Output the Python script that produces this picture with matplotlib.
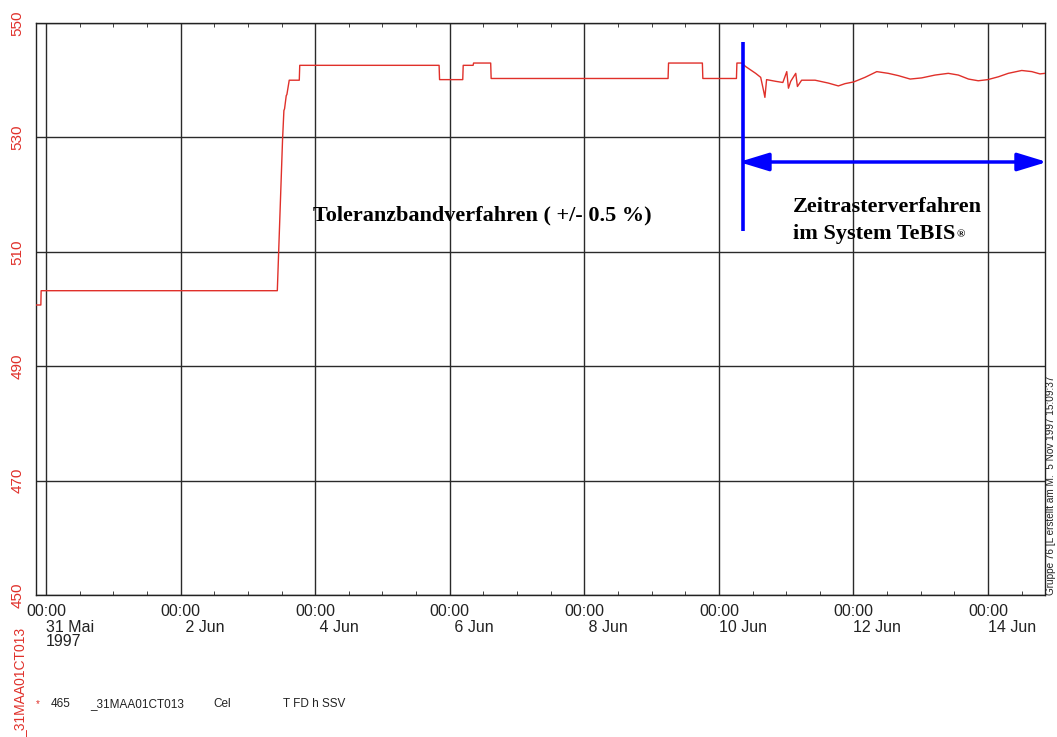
import matplotlib
matplotlib.use('Agg')
import matplotlib.pyplot as plt
import matplotlib.dates as mdates
import pandas as pd

plt.rcParams['font.family'] = ['Liberation Sans', 'DejaVu Sans']

# temperature trace 31MAA01CT013
times = [
    '1997-05-30 20:26', '1997-05-30 22:10', '1997-05-30 22:16',
    '1997-06-03 10:30', '1997-06-03 12:22', '1997-06-03 12:51',
    '1997-06-03 13:05', '1997-06-03 13:41', '1997-06-03 13:55',
    '1997-06-03 14:45', '1997-06-03 18:20', '1997-06-03 18:30',
    '1997-06-05 20:12', '1997-06-05 20:22', '1997-06-06 04:38',
    '1997-06-06 04:48', '1997-06-06 08:20', '1997-06-06 08:30',
    '1997-06-06 14:36', '1997-06-06 14:46', '1997-06-09 05:52',
    '1997-06-09 06:02', '1997-06-09 18:06', '1997-06-09 18:16',
    '1997-06-10 06:15', '1997-06-10 06:25', '1997-06-10 08:07',
    '1997-06-10 09:30', '1997-06-10 11:18', '1997-06-10 13:06',
    '1997-06-10 14:54', '1997-06-10 16:00', '1997-06-10 16:24',
    '1997-06-10 17:00', '1997-06-10 20:18', '1997-06-10 22:48',
    '1997-06-11 00:12', '1997-06-11 00:48', '1997-06-11 01:36',
    '1997-06-11 03:24', '1997-06-11 04:00', '1997-06-11 05:30',
    '1997-06-11 10:18', '1997-06-11 15:00', '1997-06-11 18:36',
    '1997-06-11 21:00', '1997-06-12 00:06', '1997-06-12 04:06',
    '1997-06-12 08:18', '1997-06-12 12:24', '1997-06-12 16:00',
    '1997-06-12 20:12', '1997-06-13 00:18', '1997-06-13 05:06',
    '1997-06-13 09:48', '1997-06-13 13:24', '1997-06-13 17:00',
    '1997-06-13 20:30', '1997-06-13 23:54', '1997-06-14 03:42',
    '1997-06-14 07:12', '1997-06-14 12:00', '1997-06-14 15:36',
    '1997-06-14 18:30', '1997-06-14 20:18',
]
values = [
    500.7, 500.7, 503.2,
    503.2, 529.6, 534.7,
    535.0, 537.3, 537.5,
    540.0, 540.0, 542.6,
    542.6, 540.1, 540.1,
    542.6, 542.6, 543.0,
    543.0, 540.3, 540.3,
    543.0, 543.0, 540.3,
    540.3, 543.0, 543.0,
    542.4, 541.8, 541.2,
    540.5, 538.0, 537.0,
    540.1, 539.8, 539.6,
    541.5, 538.6, 539.8,
    541.2, 538.9, 540.0,
    540.0, 539.5, 539.0,
    539.4, 539.7, 540.5,
    541.5, 541.2, 540.8,
    540.2, 540.4, 540.9,
    541.2, 540.9, 540.2,
    539.9, 540.1, 540.6,
    541.2, 541.7, 541.5,
    541.1, 541.2,
]

tick_days = ['1997-05-31', '1997-06-02', '1997-06-04', '1997-06-06',
             '1997-06-08', '1997-06-10', '1997-06-12', '1997-06-14']
tick_dates = ['31 Mai', ' 2 Jun', ' 4 Jun', ' 6 Jun', ' 8 Jun',
              '10 Jun', '12 Jun', '14 Jun']
y_ticks = [450, 470, 490, 510, 530, 550]

x_start, x_end = '1997-05-30 20:26', '1997-06-14 20:18'
split_time = '1997-06-10 08:35'
arrow_start, arrow_end = '1997-06-10 07:10', '1997-06-14 21:00'

red = '#e0302a'
t = pd.to_datetime(times)
ticks = pd.to_datetime(tick_days)

W, H = 1057, 737
fig = plt.figure(figsize=(W / 100, H / 100), dpi=100)
ax = fig.add_axes([36 / W, 1 - 595 / H, 1009 / W, 572 / H])

ax.plot(t, values, color=red, lw=1.0, zorder=3)

ax.set_xlim(pd.Timestamp(x_start), pd.Timestamp(x_end))
ax.set_ylim(450, 550)
ax.set_xticks(ticks)
ax.set_yticks(y_ticks)
ax.xaxis.set_minor_locator(mdates.HourLocator(byhour=[0, 12]))
ax.grid(True, which='major', color='#2a2a2a', lw=1.0)
ax.tick_params(axis='x', which='major', length=0, labelbottom=False)
ax.tick_params(axis='x', which='minor', direction='in', length=3,
               top=True, bottom=True, color='#222222')
ax.tick_params(axis='y', length=0, pad=8.5)
ax.set_yticklabels([str(v) for v in y_ticks], rotation=90, va='center',
                   color=red, fontsize=11)
for s in ax.spines.values():
    s.set_color('#222222')
    s.set_linewidth(1.0)

# time axis labels: time centred, date left aligned at the tick
trans = ax.get_xaxis_transform()
for d, lab in zip(ticks, tick_dates):
    ax.text(d, -0.029, '00:00', transform=trans, ha='center', va='center',
            fontsize=11.5, color='#222222')
    ax.text(d, -0.056, lab, transform=trans, ha='left', va='center',
            fontsize=11.5, color='#222222')
ax.text(ticks[0], -0.082, '1997', transform=trans, ha='left', va='center',
        fontsize=11.5, color='#222222')

# blue marker for the change of method
ts = pd.Timestamp(split_time)
ax.plot([ts, ts], [546.7, 513.6], color='blue', lw=2.6,
        solid_capstyle='butt', zorder=4)
ax.annotate('', xy=(pd.Timestamp(arrow_end), 525.7),
            xytext=(pd.Timestamp(arrow_start), 525.7),
            annotation_clip=False,
            arrowprops=dict(arrowstyle='<|-|>,head_length=1.8,head_width=0.55',
                            mutation_scale=10, color='blue', lw=2.5,
                            shrinkA=0, shrinkB=0), zorder=4)

serif = dict(family='Liberation Serif', weight='bold', fontsize=16,
             color='black', va='baseline', transform=ax.transAxes)
ax.text(0.2745, 0.6556, 'Toleranzbandverfahren ( +/- 0.5 %)', **serif)
ax.text(0.7502, 0.6701, 'Zeitrasterverfahren', **serif)
tebis = ax.text(0.7502, 0.6224, 'im System TeBIS', **serif)
ax.annotate('\u00ae', xy=(1, 0.25), xycoords=tebis, xytext=(0.5, 0),
            textcoords='offset points', family='Liberation Serif',
            weight='bold', fontsize=8, va='bottom', ha='left')

# side and footer texts
fig.text(20 / W, 1 - 628 / H, '_31MAA01CT013', rotation=90, ha='center',
         va='top', color=red, fontsize=10)
fig.text(1051 / W, 1 - 595 / H,
         'Gruppe 76 [L erstellt am M.  5 Nov 1997 15:09:37',
         rotation=90, ha='center', va='bottom', fontsize=7.2, color='#222222')
fy = 1 - 704 / H
fig.text(38 / W, fy, '*', color=red, fontsize=7, ha='center', va='center')
fig.text(51 / W, fy, '465', fontsize=8.5, va='center', color='#222222')
fig.text(90 / W, fy, '_31MAA01CT013', fontsize=8.5, va='center', color='#222222')
fig.text(213 / W, fy, 'Cel', fontsize=8.5, va='center', color='#222222')
fig.text(283 / W, fy, 'T FD h SSV', fontsize=8.5, va='center', color='#222222')

fig.savefig('out.png', dpi=100)
